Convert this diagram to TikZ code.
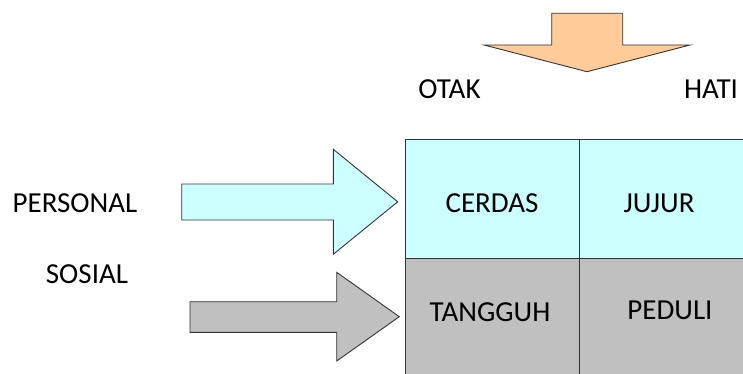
\documentclass[tikz,border=0pt]{standalone}
\usepackage{fontspec}
\setmainfont{Carlito}
\definecolor{orangefill}{HTML}{FFCC99}
\definecolor{cyanfill}{HTML}{CCFFFF}
\definecolor{grayfill}{HTML}{C0C0C0}
\definecolor{edge}{HTML}{333333}
\begin{document}
\begin{tikzpicture}[x=1pt,y=-1pt,
  shapeline/.style={draw=edge,line width=0.9pt,line join=miter},
  lbl/.style={font=\fontsize{29}{33}\selectfont,text=black,inner sep=0pt,anchor=center}]
\useasboundingbox (0,0) rectangle (743,374);
\clip (0,0) rectangle (743,374);
% top arrow
\draw[shapeline,fill=orangefill] (551.7,13.3) -- (622.7,13.3) -- (622.7,45) -- (690,45) -- (587,71.7) -- (484,45) -- (551.7,45) -- cycle;
% personal arrow
\draw[shapeline,fill=cyanfill] (181.7,184) -- (333.3,184) -- (333.3,149.3) -- (397.7,201.8) -- (333.3,254.3) -- (333.3,220) -- (181.7,220) -- cycle;
% sosial arrow
\draw[shapeline,fill=grayfill] (190,301.7) -- (336.7,301.7) -- (336.7,272.3) -- (399.3,316.7) -- (336.7,361) -- (336.7,332.3) -- (190,332.3) -- cycle;
% grid cells
\node[shapeline,fill=cyanfill,minimum width=174.3pt,minimum height=119pt,inner sep=0pt,anchor=north west] (c11) at (405,139.3) {};
\node[shapeline,fill=cyanfill,minimum width=170pt,minimum height=119pt,inner sep=0pt,anchor=north west] (c12) at (579.3,139.3) {};
\node[shapeline,fill=grayfill,minimum width=174.3pt,minimum height=125pt,inner sep=0pt,anchor=north west] (c21) at (405,258.3) {};
\node[shapeline,fill=grayfill,minimum width=170pt,minimum height=125pt,inner sep=0pt,anchor=north west] (c22) at (579.3,258.3) {};
% labels
\node[lbl] (otak) at (449.5,89) {OTAK};
\node[lbl] (hati) at (711,89) {HATI};
\node[lbl] (personal) at (75,203) {PERSONAL};
\node[lbl] (sosial) at (87,274) {SOSIAL};
\node[lbl] (cerdas) at (492,203) {CERDAS};
\node[lbl] (jujur) at (659,203) {JUJUR};
\node[lbl] (tangguh) at (490,312) {TANGGUH};
\node[lbl] (peduli) at (670,310) {PEDULI};
\end{tikzpicture}
\end{document}
